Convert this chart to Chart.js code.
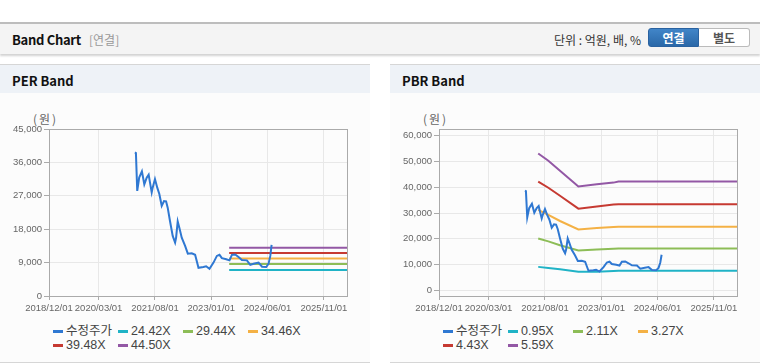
<!DOCTYPE html>
<html>
<head>
<meta charset="utf-8">
<script src="https://cdn.jsdelivr.net/npm/chart.js@4.4.1/dist/chart.umd.min.js"></script>
<style>
  body { margin: 0; background: #fff; font-family: "Liberation Sans", "Noto Sans CJK KR", sans-serif; }
  #page { position: relative; width: 760px; height: 364px; overflow: hidden; }
  .topbar { position: absolute; left: 0; top: 22px; width: 760px; height: 30px; background: #f4f4f4;
            border-top: 2px solid #bdbdbd; box-shadow: 0 2px 2px rgba(0,0,0,0.18); }
  .topbar .title { position: absolute; left: 12px; top: 6px; font: bold 13px "Noto Sans CJK KR", sans-serif; color: #111; letter-spacing: -0.3px; }
  .topbar .sub { position: absolute; left: 89px; top: 7px; font: 12px "Noto Sans CJK KR", sans-serif; color: #999; }
  .topbar .unit { position: absolute; right: 119px; top: 7px; font: 12px "Noto Sans CJK KR", sans-serif; color: #333; }
  .btn { position: absolute; top: 4px; height: 19px; width: 51px; text-align: center; line-height: 19px;
         font: bold 12px "Noto Sans CJK KR", sans-serif; box-sizing: border-box; }
  .btn.on { left: 648px; background: linear-gradient(#4185c8, #2a68a8); color: #fff; border: 1px solid #2a62a0; border-radius: 3px 0 0 3px; }
  .btn.off { left: 699px; background: #fff; color: #555; border: 1px solid #bbb; border-left: none; border-radius: 0 3px 3px 0; }
  .panel { position: absolute; top: 64px; width: 370px; height: 297px; background: #fcfcfc;
           border-top: 1px solid #d6d6d6; border-bottom: 1px solid #d6d6d6; }
  .panel .head { position: absolute; left: 0; top: 0; width: 370px; height: 28px; background: #eef2f7; }
  .panel .head span { position: absolute; left: 12px; top: 6px; font: bold 13px "Noto Sans CJK KR", sans-serif; color: #111; }
  .panel canvas { position: absolute; left: 0; top: 36px; }
  .panel .unitlbl { position: absolute; left: 33px; top: 45px; font: 12px "Noto Sans CJK KR", sans-serif; color: #666; letter-spacing: 2px; }
  .legend { position: absolute; left: 53px; top: 259px; width: 300px; }
  .legend .item { float: left; width: 65px; height: 14px; position: relative; font: 12.5px "Liberation Sans", "Noto Sans CJK KR", sans-serif; color: #444; line-height: 14px; white-space: nowrap; }
  .legend .item i { position: absolute; left: 0; top: 6px; width: 10px; height: 3px; }
  .legend .item b { position: absolute; left: 13px; top: 0; font-weight: normal; }
</style>
</head>
<body>
<div id="page">
  <div class="topbar">
    <span class="title">Band Chart</span><span class="sub">[연결]</span>
    <span class="unit">단위 : 억원, 배, %</span>
    <div class="btn on">연결</div><div class="btn off">별도</div>
  </div>
  <div class="panel" style="left:0">
    <div class="head"><span>PER Band</span></div>
    <span class="unitlbl">(원)</span>
    <canvas id="perChart" width="370" height="220"></canvas>
    <div class="legend" id="perLegend"></div>
  </div>
  <div class="panel" style="left:390px">
    <div class="head"><span>PBR Band</span></div>
    <span class="unitlbl">(원)</span>
    <canvas id="pbrChart" width="370" height="220"></canvas>
    <div class="legend" id="pbrLegend"></div>
  </div>
</div>
<script>
// x축 (날짜)
const xTickLabels = ['2018/12/01', '2020/03/01', '2021/08/01', '2023/01/01', '2024/06/01', '2025/11/01'];
const xMinDate = '2018-12-01';
const xMaxDate = '2026-06-01';

// 수정주가
const priceDates = [
  '2021-01-29', '2021-02-07', '2021-02-19', '2021-03-09', '2021-04-03', '2021-04-25', '2021-05-17', '2021-06-04',
  '2021-06-16', '2021-07-02', '2021-07-11', '2021-08-01', '2021-08-22', '2021-09-10', '2021-10-02', '2021-10-23',
  '2021-11-11', '2021-11-26', '2021-12-17', '2022-01-11', '2022-02-02', '2022-02-11', '2022-02-26', '2022-03-13',
  '2022-04-04', '2022-05-05', '2022-05-30', '2022-07-05', '2022-08-05', '2022-09-05', '2022-10-20', '2022-11-14',
  '2022-12-15', '2023-01-21', '2023-02-21', '2023-03-17', '2023-04-08', '2023-05-18', '2023-06-17', '2023-07-09',
  '2023-08-09', '2023-09-08', '2023-10-09', '2023-11-24', '2023-12-25', '2024-01-24', '2024-03-10', '2024-04-11',
  '2024-05-20', '2024-06-10', '2024-06-26', '2024-07-08'
];
const priceValues = [
  38700, 38500, 28300, 31900, 33600, 30100, 31900, 32700,
  30600, 27900, 29200, 31500, 29200, 27500, 24300, 25600,
  25500, 23800, 20200, 16200, 14400, 15700, 20100, 18400,
  15700, 13500, 11400, 11500, 11100, 7600, 7800, 8000,
  7300, 9000, 10800, 11100, 10200, 9900, 9600, 11100,
  11200, 10500, 9700, 9600, 8400, 8700, 9000, 7900,
  7800, 8700, 10800, 13800
];

// PER 밴드
const perBandLabels = ['24.42X', '29.44X', '34.46X', '39.48X', '44.50X'];
const perBandDates = ['2023-06-14', '2026-06-01'];
const per2442 = [7000, 7000];
const per2944 = [8600, 8600];
const per3446 = [10100, 10100];
const per3948 = [11600, 11600];
const per4450 = [13000, 13000];
const perYTicks = [0, 9000, 18000, 27000, 36000, 45000];

// PBR 밴드
const pbrBandLabels = ['0.95X', '2.11X', '3.27X', '4.43X', '5.59X'];
const pbrBandDates = ['2021-05-31', '2021-09-01', '2021-12-17', '2022-06-04', '2022-11-21', '2023-04-23', '2023-06-08', '2026-06-01'];
const pbr095 = [9100, 8700, 8200, 7200, 7200, 7500, 7600, 7600];
const pbr211 = [20100, 19000, 17500, 15500, 15800, 16100, 16200, 16200];
const pbr327 = [31200, 29300, 26900, 23600, 24200, 24600, 24700, 24700];
const pbr443 = [42200, 39800, 36700, 31700, 32500, 33300, 33400, 33400];
const pbr559 = [53100, 50300, 46400, 40300, 41200, 41800, 42200, 42200];
const pbrYTicks = [0, 10000, 20000, 30000, 40000, 50000, 60000];

const priceColor = '#2f78d2';
const bandColors = ['#20b3c6', '#8dbd57', '#f4b145', '#c63a32', '#9358a5'];

function toDay(s) {
  const p = s.replace(/\//g, '-').split('-').map(Number);
  return Date.UTC(p[0], p[1] - 1, p[2]) / 86400000;
}
function dayLabel(v) {
  const d = new Date(v * 86400000);
  const mm = String(d.getUTCMonth() + 1).padStart(2, '0');
  const dd = String(d.getUTCDate()).padStart(2, '0');
  return d.getUTCFullYear() + '/' + mm + '/' + dd;
}
function pts(dates, vals) {
  return dates.map((d, i) => ({ x: toDay(d), y: vals[i] }));
}

const frame = {
  id: 'frame',
  afterDatasetsDraw(chart) {
    const a = chart.chartArea, ctx = chart.ctx;
    ctx.save();
    ctx.strokeStyle = '#aaaaaa';
    ctx.lineWidth = 1;
    ctx.strokeRect(Math.round(a.left) + 0.5, Math.round(a.top) + 0.5, Math.round(a.right - a.left), Math.round(a.bottom - a.top));
    ctx.restore();
  }
};

function makeChart(id, legendId, bandLabels, bandDates, bands, yMin, yMax, yTicks) {
  const datasets = [{ label: '수정주가', data: pts(priceDates, priceValues), borderColor: priceColor }];
  bands.forEach((b, i) => datasets.push({ label: bandLabels[i], data: pts(bandDates, b), borderColor: bandColors[i] }));
  datasets.forEach(ds => { ds.borderWidth = 2; ds.pointRadius = 0; ds.fill = false; ds.tension = 0; });

  const chart = new Chart(document.getElementById(id).getContext('2d'), {
    type: 'line',
    data: { datasets: datasets },
    plugins: [frame],
    options: {
      responsive: false,
      animation: false,
      layout: { padding: { top: 28, right: 23, left: 0, bottom: 0 } },
      plugins: { legend: { display: false }, tooltip: { enabled: false } },
      scales: {
        x: {
          type: 'linear',
          min: toDay(xMinDate),
          max: toDay(xMaxDate),
          afterBuildTicks: s => { s.ticks = xTickLabels.map(t => ({ value: toDay(t) })); },
          afterFit: s => { s.height = 25; },
          ticks: { callback: v => dayLabel(v), autoSkip: false, maxRotation: 0, color: '#666', padding: 3,
                   font: { family: 'Liberation Sans', size: 9.5 } },
          grid: { color: '#e8e8e8', tickColor: '#aaaaaa', tickLength: 4 },
          border: { color: '#aaaaaa' }
        },
        y: {
          min: yMin,
          max: yMax,
          afterBuildTicks: s => { s.ticks = yTicks.map(v => ({ value: v })); },
          afterFit: s => { s.width = 49; },
          ticks: { callback: v => v.toLocaleString('en-US'), color: '#666', padding: 2,
                   font: { family: 'Liberation Sans', size: 9.5 } },
          grid: { color: '#e8e8e8', tickColor: '#aaaaaa', tickLength: 5 },
          border: { color: '#aaaaaa' }
        }
      }
    }
  });

  const lg = document.getElementById(legendId);
  chart.data.datasets.forEach(ds => {
    const it = document.createElement('div');
    it.className = 'item';
    it.innerHTML = '<i style="background:' + ds.borderColor + '"></i><b>' + ds.label + '</b>';
    lg.appendChild(it);
  });
  return chart;
}

makeChart('perChart', 'perLegend', perBandLabels, perBandDates, [per2442, per2944, per3446, per3948, per4450], 0, 45000, perYTicks);
makeChart('pbrChart', 'pbrLegend', pbrBandLabels, pbrBandDates, [pbr095, pbr211, pbr327, pbr443, pbr559], -2200, 62600, pbrYTicks);
</script>
</body>
</html>
